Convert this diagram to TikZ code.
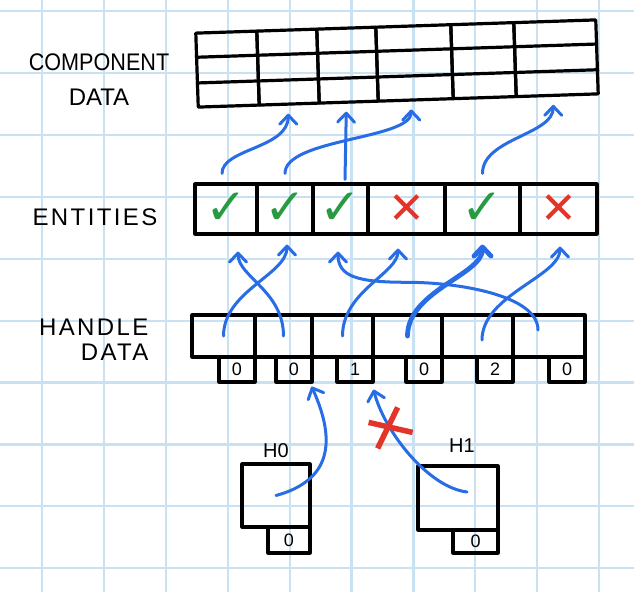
\documentclass[tikz,border=0pt]{standalone}
\usepackage{fontspec}
\setmainfont{Liberation Sans}
\newfontfamily\symfont{DejaVu Sans}
\usetikzlibrary{arrows.meta,fit,calc}
\definecolor{penblue}{RGB}{40,108,230}
\definecolor{okgreen}{RGB}{40,155,66}
\definecolor{badred}{RGB}{226,52,40}
\definecolor{gridblue}{RGB}{200,226,244}

\begin{document}
\begin{tikzpicture}[x=1pt,y=-1pt,>={Straight Barb[length=9pt,width=17pt,line cap=round,line join=round]},
  cell/.style={draw,line width=3.2pt,inner sep=0pt,line join=round},
  digit/.style={font=\fontsize{18}{18}\selectfont},
  lbl/.style={font=\fontsize{24}{35}\selectfont},
  wide/.style={font=\fontsize{24}{25}\selectfont\addfontfeature{LetterSpace=10}},
  link/.style={->,draw=penblue,line width=3pt,line cap=round},
  ok/.style={text=okgreen,font=\symfont\fontsize{50}{50}\selectfont},
  bad/.style={text=badred,font=\symfont\fontsize{44}{44}\selectfont}]
  \useasboundingbox (0,0) rectangle (634,592);
  \fill[white] (0,0) rectangle (634,592);
  \foreach \i in {0,...,9} {
    \draw[gridblue,line width=2.2pt] ({42+61.9*\i},0) -- ({42+61.9*\i},592);
    \draw[gridblue,line width=2.2pt] (0,{11.1+61.9*\i}) -- (634,{11.1+61.9*\i});
  }

  \node[lbl,align=center] (cdlbl) at (99,80) {\scalebox{0.9}[1]{COMPONENT}\\DATA};
  \node[wide] (enlbl) at (95,217) {ENTITIES};
  \node[wide,align=right,anchor=east] (hdlbl) at (152,340) {HANDLE\\DATA};

  \foreach \n/\xc/\w in {0/227.5/61,1/288/60,2/347.5/59,3/414.5/75,4/483.5/63,5/556/82}
    \node[cell,rotate=1.9,minimum width=\w pt,minimum height=74pt] (c\n) at (\xc,{63.5-(\xc-397)*0.033}) {};
  \foreach \k in {1,2}
    \draw[line width=3.2pt] ($(c0.north west)!\k/3!(c0.south west)$) -- ($(c5.north east)!\k/3!(c5.south east)$);

  \foreach \n/\xa/\xb/\st/\sym in {0/195/257/ok/✓,1/257/313/ok/✓,2/313/368/ok/✓,3/368/445/bad/✕,4/445/520/ok/✓,5/520/597/bad/✕} {
    \node[cell,fit={(\xa,184) (\xb,234)}] (e\n) {};
    \node[\st] (m\n) at (e\n) {\sym};
  }

  \foreach \n/\xa/\xb/\g in {0/192/255/0,1/255/312/0,2/312/373/1,3/373/442/0,4/442/513/2,5/513/585/0} {
    \node[cell,fit={(\xa,315) (\xb,357)}] (hd\n) {};
    \node[cell,fit={({\xb-36},357) (\xb,382)}] (gd\n) {};
    \node[digit] (gv\n) at (gd\n) {\g};
  }

  \node[cell,fit={(242,464) (310,527)}] (H0) {};
  \node[cell,fit={(268,527) (310,553)}] (H0g) {};
  \node[digit] (H0v) at (H0g) {0};
  \node[font=\fontsize{20}{20}\selectfont] (H0l) at (276,451) {H0};
  \node[cell,fit={(418,466) (498,530)}] (H1) {};
  \node[cell,fit={(453,530) (498,553)}] (H1g) {};
  \node[digit] (H1v) at (H1g) {0};
  \node[font=\fontsize{20}{20}\selectfont] (H1l) at (462,446) {H1};

  \draw[link] ([xshift=-4pt,yshift=9pt]e0.north) .. controls +(0,-25) and +(0,35) .. ([xshift=-1pt,yshift=-8pt]c1.south);
  \draw[link] ([yshift=9pt]e1.north) .. controls +(0,-35) and +(0,30) .. ([xshift=-4.5pt,yshift=-8pt]c3.south);
  \draw[link] ([xshift=4.5pt,yshift=3pt]e2.north) -- ([xshift=-2.5pt,yshift=-8pt]c2.south);
  \draw[link] ([yshift=9pt]e4.north) .. controls +(0,-35) and +(0,30) .. ([xshift=-4pt,yshift=-8pt]c5.south);

  \draw[link] (hd0.center) .. controls +(0,-45) and +(0,30) .. ([xshift=2pt,yshift=-9pt]e1.south);
  \draw[link] (hd1.center) .. controls +(0,-45) and +(0,25) .. ([xshift=12pt,yshift=-16pt]e0.south);
  \draw[link] (hd2.center) .. controls +(0,-45) and +(0,25) .. ([xshift=-8.5pt,yshift=-13pt]e3.south);
  \draw[link] ([xshift=-11pt,yshift=6pt]hd5.center) .. controls +(0,-35) and +(50,0) .. ($(e3.south)!.6!(hd3.north)$) .. controls +(-50,0) and +(0,25) .. ([xshift=-2.5pt,yshift=-16pt]e2.south);
  \draw[link,line width=4.8pt] (hd3.center) .. controls +(0,-45) and +(0,30) .. ([yshift=-9pt]e4.south);
  \draw[link] ([xshift=4.5pt,yshift=-4pt]hd4.center) .. controls +(0,-45) and +(0,30) .. ([xshift=1.5pt,yshift=-11pt]e5.south);

  \draw[link] (H0.center) .. controls +(55,-15) and +(25,55) .. ([xshift=-2pt,yshift=-3pt]gd1.south east);
  \draw[link] ([xshift=9pt,yshift=6pt]H1.center) .. controls +(-40,-5) and +(10,40) .. ([xshift=-1pt,yshift=-6pt]gd2.south east) coordinate[pos=.7] (cut);
  \draw[badred,line width=5.5pt] (cut) +(-22,-6) -- +(22,4) (cut) +(7,-21) -- +(-13,20);
\end{tikzpicture}
\end{document}
